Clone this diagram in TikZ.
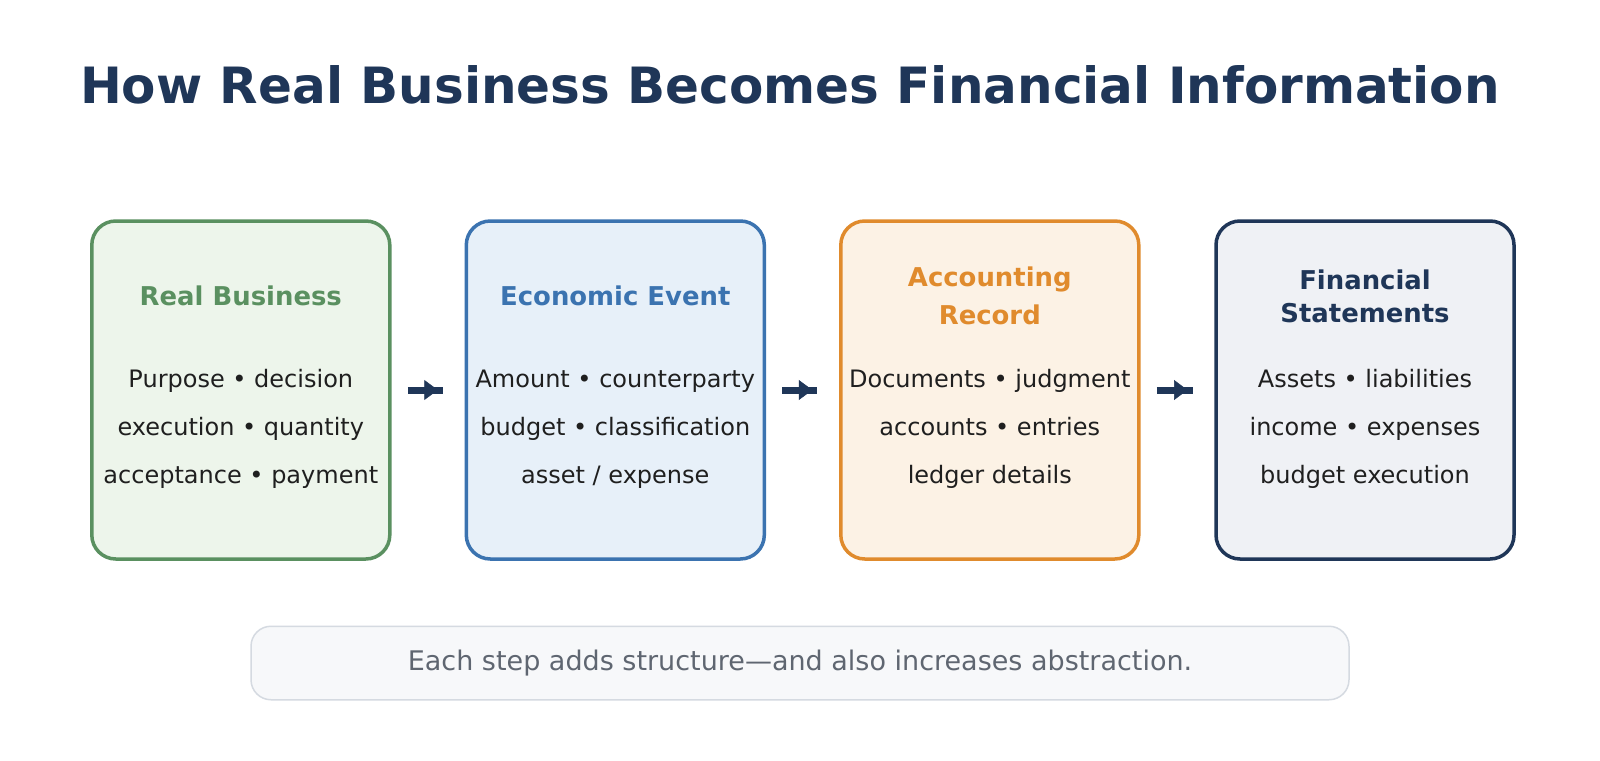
\documentclass[tikz,border=0pt]{standalone}
\usepackage{fontspec}
\setmainfont{DejaVu Sans}
\usetikzlibrary{arrows.meta}
\definecolor{navy}{HTML}{1F3658}
\definecolor{gbord}{HTML}{5A9060}
\definecolor{gfill}{HTML}{EDF5EB}
\definecolor{bbord}{HTML}{3B73B0}
\definecolor{bfill}{HTML}{E7F0F9}
\definecolor{obord}{HTML}{E08B2D}
\definecolor{ofill}{HTML}{FCF2E5}
\definecolor{nfill}{HTML}{EFF1F5}
\definecolor{body}{HTML}{1F1F1F}
\definecolor{ffill}{HTML}{F7F8FA}
\definecolor{fbord}{HTML}{D5DAE1}
\definecolor{ftext}{HTML}{5F6671}
\tikzset{
  card/.style={draw=#1, line width=3.5pt, rounded corners=24pt, minimum width=298pt, minimum height=338pt, outer sep=0pt, inner sep=0pt},
  cardtitle/.style={anchor=base, text=#1, font=\fontsize{25.9}{30}\selectfont\bfseries},
  bodyline/.style={anchor=base, text=body, font=\fontsize{24}{28}\selectfont},
  shaft/.style={draw=navy, line width=7pt, shorten <=18pt, shorten >=23.5pt},
  head/.style={draw=navy, fill=navy, -{Triangle[length=13.5pt,width=20pt]}, line width=0.5pt, shorten <=30pt, shorten >=28.5pt},
}
\begin{document}
\begin{tikzpicture}[x=1pt,y=-1pt]
\useasboundingbox[fill=white] (0,0) rectangle (1600,760);
\node[anchor=base, text=navy, font=\fontsize{50}{60}\selectfont\bfseries] (title) at (790,103) {How Real Business Becomes Financial Information};

\node[card=gbord, fill=gfill] (b1) at (240.8,390) {};
\node[card=bbord, fill=bfill] (b2) at (615.3,390) {};
\node[card=obord, fill=ofill] (b3) at (989.8,390) {};
\node[card=navy, fill=nfill] (b4) at (1365,390) {};

\node[cardtitle=gbord] (t1) at (240.8,305) {Real Business};
\node[cardtitle=bbord] (t2) at (615.3,305) {Economic Event};
\node[cardtitle=obord] (t3a) at (989.8,286) {Accounting};
\node[cardtitle=obord] (t3b) at (989.8,324) {Record};
\node[cardtitle=navy] (t4a) at (1365,289) {Financial};
\node[cardtitle=navy] (t4b) at (1365,322) {Statements};

\node[bodyline] (l11) at (240.8,387) {Purpose • decision};
\node[bodyline] (l12) at (240.8,435) {execution • quantity};
\node[bodyline] (l13) at (240.8,483) {acceptance • payment};
\node[bodyline] (l21) at (615.3,387) {Amount • counterparty};
\node[bodyline] (l22) at (615.3,435) {budget • classification};
\node[bodyline] (l23) at (615.3,483) {asset / expense};
\node[bodyline] (l31) at (989.8,387) {Documents • judgment};
\node[bodyline] (l32) at (989.8,435) {accounts • entries};
\node[bodyline] (l33) at (989.8,483) {ledger details};
\node[bodyline] (l41) at (1365,387) {Assets • liabilities};
\node[bodyline] (l42) at (1365,435) {income • expenses};
\node[bodyline] (l43) at (1365,483) {budget execution};

\foreach \a/\b in {b1/b2,b2/b3,b3/b4}{
  \draw[shaft] (\a.east) -- (\b.west);
  \draw[head] (\a.east) -- (\b.west);
}

\node[draw=fbord, fill=ffill, line width=1.5pt, rounded corners=20pt, minimum width=1098pt, minimum height=73.5pt, text=ftext, font=\fontsize{27}{32}\selectfont] (foot) at (800,663) {Each step adds structure—and also increases abstraction.};
\end{tikzpicture}
\end{document}
